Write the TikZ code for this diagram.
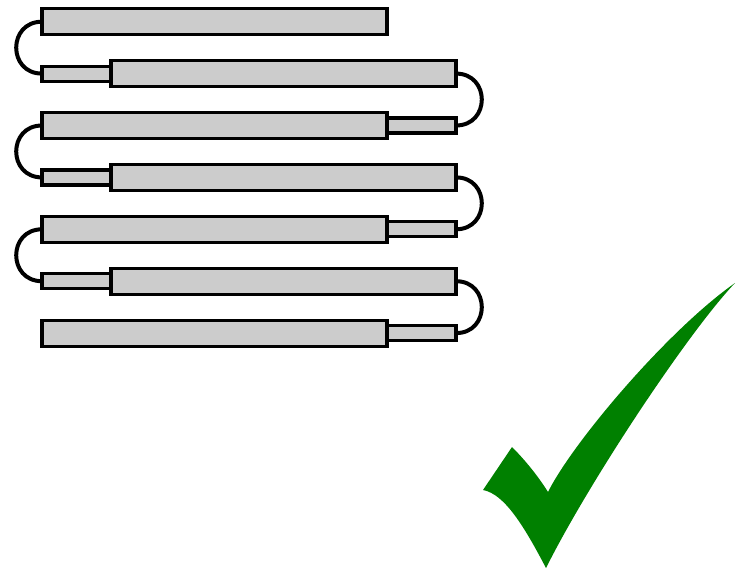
\documentclass[tikz,border=0pt]{standalone}
\usepackage{tikz}

% Colori
\definecolor{grigiobarra}{RGB}{204,204,204}
\definecolor{verdespunta}{RGB}{0,128,0}

\begin{document}
\begin{tikzpicture}[x=1pt,y=-1pt,
    lungo/.style={draw=black, fill=grigiobarra, line width=3.2pt, rectangle, outer sep=0pt,
                  minimum width=345pt, minimum height=26pt, inner sep=0pt},
    corto/.style={draw=black, fill=grigiobarra, line width=3.2pt, rectangle, outer sep=0pt,
                  minimum width=69pt, minimum height=15pt, inner sep=0pt},
    ansa/.style={draw=black, line width=4pt, looseness=1.7}]

  % Area del disegno
  \useasboundingbox (0,0) rectangle (743,570);

  % Distanza tra le righe
  \def\dy{51.9}

  % Segmenti corti (a sinistra e a destra)
  \node[corto] (c2) at (76.5,{21.7+1*\dy}) {};
  \node[corto] (c3) at (421.5,{21.7+2*\dy}) {};
  \node[corto] (c4) at (76.5,{21.7+3*\dy}) {};
  \node[corto] (c5) at (421.5,{21.7+4*\dy}) {};
  \node[corto] (c6) at (76.5,{21.7+5*\dy}) {};
  \node[corto] (c7) at (421.5,{21.7+6*\dy}) {};

  % Segmenti lunghi
  \node[lungo] (l1) at (214.5,21.7) {};
  \node[lungo] (l2) at (283.5,{21.7+1*\dy}) {};
  \node[lungo] (l3) at (214.5,{21.7+2*\dy}) {};
  \node[lungo] (l4) at (283.5,{21.7+3*\dy}) {};
  \node[lungo] (l5) at (214.5,{21.7+4*\dy}) {};
  \node[lungo] (l6) at (283.5,{21.7+5*\dy}) {};
  \node[lungo] (l7) at (214.5,{21.7+6*\dy}) {};

  % Anse a sinistra
  \draw[ansa] (l1.west) to[out=180,in=180] (c2.west);
  \draw[ansa] (l3.west) to[out=180,in=180] (c4.west);
  \draw[ansa] (l5.west) to[out=180,in=180] (c6.west);

  % Anse a destra
  \draw[ansa] (l2.east) to[out=0,in=0] (c3.east);
  \draw[ansa] (l4.east) to[out=0,in=0] (c5.east);
  \draw[ansa] (l6.east) to[out=0,in=0] (c7.east);

  % Segno di spunta
  \fill[verdespunta] (483,490) -- (512,447)
    .. controls (525,460) and (538,476) .. (548,492)
    .. controls (573,442) and (668,330) .. (735,283)
    .. controls (690,330) and (590,480) .. (546,568)
    .. controls (525,528) and (505,494) .. cycle;

\end{tikzpicture}
\end{document}
